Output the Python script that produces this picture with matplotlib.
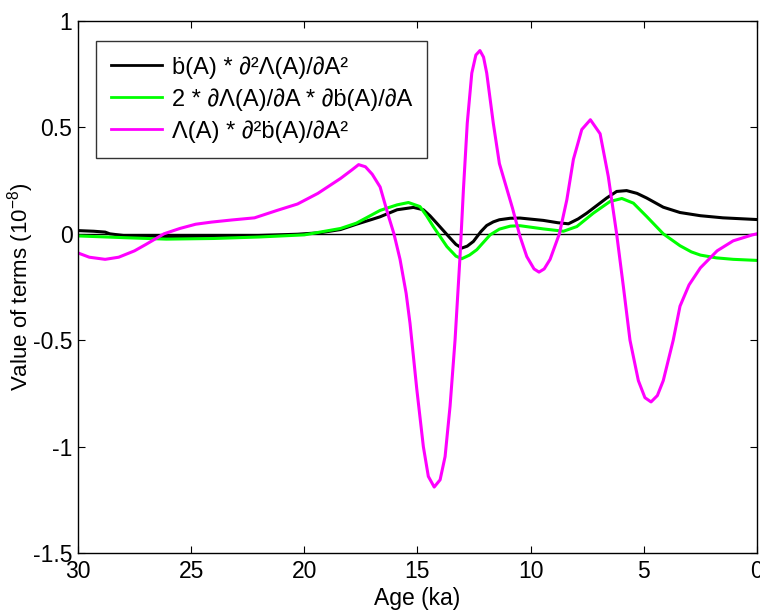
import matplotlib
matplotlib.use("Agg")
import matplotlib.pyplot as plt

plt.rcParams['font.family'] = ['Liberation Sans', 'DejaVu Sans']
plt.rcParams['mathtext.fontset'] = 'custom'
plt.rcParams['mathtext.rm'] = 'Liberation Sans'
plt.rcParams['mathtext.it'] = 'Liberation Sans:italic'
plt.rcParams['axes.unicode_minus'] = False

# Age (ka) and term values (1e-8)
age_bdot = [30, 29.3, 28.8, 28.6, 28.0, 27.0, 26.0, 24.1, 22.0, 20.3, 19.3, 18.4,
            17.7, 17.0, 16.65, 15.9, 15.18, 14.74, 14.45, 14.15, 13.56, 13.3, 13.04,
            12.8, 12.53, 12.2, 11.94, 11.65, 11.38, 10.9, 10.47, 9.44, 8.8, 8.33,
            7.9, 7.52, 6.64, 6.2, 5.76, 5.3, 4.87, 4.14, 3.4, 2.5, 1.5, 0]
val_bdot = [0.015, 0.012, 0.008, 0.0, -0.008, -0.012, -0.013, -0.012, -0.008, -0.002,
            0.005, 0.02, 0.045, 0.068, 0.08, 0.113, 0.124, 0.113, 0.085, 0.05, -0.02,
            -0.05, -0.067, -0.058, -0.036, 0.01, 0.039, 0.056, 0.066, 0.073, 0.074,
            0.063, 0.052, 0.047, 0.07, 0.097, 0.168, 0.199, 0.203, 0.19, 0.168, 0.125,
            0.10, 0.085, 0.075, 0.067]

age_cross = [30, 28, 26.1, 24, 22, 20, 18.4, 17.7, 17.0, 16.65, 15.9, 15.4, 14.89,
             14.6, 14.3, 13.7, 13.3, 13.04, 12.7, 12.38, 11.79, 11.38, 10.9, 10.47,
             9.44, 8.55, 7.96, 7.23, 6.49, 5.97, 5.46, 4.87, 4.14, 3.4, 2.9, 2.5, 1.8,
             1.05, 0]
val_cross = [-0.01, -0.018, -0.025, -0.022, -0.015, -0.005, 0.025, 0.05, 0.09, 0.11,
             0.136, 0.147, 0.128, 0.085, 0.034, -0.06, -0.105, -0.117, -0.10, -0.075,
             -0.005, 0.022, 0.036, 0.038, 0.023, 0.012, 0.034, 0.097, 0.152, 0.166,
             0.144, 0.081, 0.0, -0.056, -0.085, -0.10, -0.113, -0.12, -0.125]

age_lam = [30, 29.5, 28.8, 28.2, 27.5, 27.0, 26.2, 25.5, 24.8, 24.1, 23.2, 22.2,
           21.2, 20.3, 19.4, 18.4, 17.9, 17.6, 17.3, 17.0, 16.65, 16.3, 16.04, 15.77,
           15.5, 15.33, 15.03, 14.74, 14.52, 14.26, 14.0, 13.78, 13.56, 13.34, 13.12,
           12.97, 12.8, 12.6, 12.42, 12.24, 12.08, 11.94, 11.65, 11.38, 10.8, 10.47,
           10.17, 9.85, 9.63, 9.4, 9.14, 8.73, 8.4, 8.11, 7.74, 7.36, 6.93, 6.57, 6.2,
           5.9, 5.61, 5.24, 4.95, 4.68, 4.4, 4.14, 3.7, 3.4, 3.0, 2.5, 1.76, 1.05,
           0.2, 0]
val_lam = [-0.09, -0.11, -0.12, -0.11, -0.08, -0.05, 0.0, 0.025, 0.045, 0.055, 0.065,
           0.075, 0.11, 0.14, 0.19, 0.26, 0.30, 0.325, 0.315, 0.28, 0.22, 0.09, 0.0,
           -0.12, -0.28, -0.42, -0.73, -1.0, -1.14, -1.19, -1.156, -1.047, -0.81,
           -0.50, -0.107, 0.207, 0.52, 0.755, 0.84, 0.861, 0.83, 0.755, 0.52, 0.33,
           0.12, -0.012, -0.107, -0.165, -0.18, -0.165, -0.12, 0.0, 0.16, 0.35, 0.49,
           0.536, 0.47, 0.27, 0.0, -0.25, -0.50, -0.69, -0.77, -0.79, -0.76, -0.69,
           -0.50, -0.34, -0.24, -0.16, -0.08, -0.033, -0.005, 0.0]

labels = ['\u1e03(A) * \u2202\u00b2\u039b(A)/\u2202A\u00b2',
          '2 * \u2202\u039b(A)/\u2202A * \u2202\u1e03(A)/\u2202A',
          '\u039b(A) * \u2202\u00b2\u1e03(A)/\u2202A\u00b2']

fig = plt.figure(figsize=(7.6, 6.1), dpi=100)
ax = fig.add_axes([0.1026, 0.0934, 0.8934, 0.8722])

ax.axhline(0, color='black', linewidth=1.0)
ax.plot(age_bdot, val_bdot, color='black', linewidth=2.2, label=labels[0])
ax.plot(age_cross, val_cross, color='#00ff00', linewidth=2.2, label=labels[1])
ax.plot(age_lam, val_lam, color='#ff00ff', linewidth=2.2, label=labels[2])

ax.set_xlim(30, 0)
ax.set_ylim(-1.5, 1)
ax.set_xticks([30, 25, 20, 15, 10, 5, 0])
ax.set_yticks([-1.5, -1, -0.5, 0, 0.5, 1])
ax.set_yticklabels(['-1.5', '-1', '-0.5', '0', '0.5', '1'])
ax.tick_params(direction='in', top=True, right=True, labelsize=16.5, length=5)
ax.tick_params(axis='x', pad=5)
ax.tick_params(axis='y', pad=4)
for s in ax.spines.values():
    s.set_linewidth(1.0)

ax.set_xlabel('Age (ka)', fontsize=16.5, labelpad=3)
ax.set_ylabel('Value of terms (10$^{-8}$)', fontsize=16)
ax.yaxis.set_label_coords(-0.062, 0.5)

leg = ax.legend(loc='upper left', bbox_to_anchor=(0.026, 0.962), borderaxespad=0,
                fontsize=17, frameon=True, fancybox=False, edgecolor='black',
                handlelength=2.2, handletextpad=0.4, labelspacing=0.4,
                borderpad=0.63)
leg.get_frame().set_linewidth(1.0)
for h in leg.get_lines():
    h.set_linewidth(2.0)

fig.savefig('out.png', dpi=100)
